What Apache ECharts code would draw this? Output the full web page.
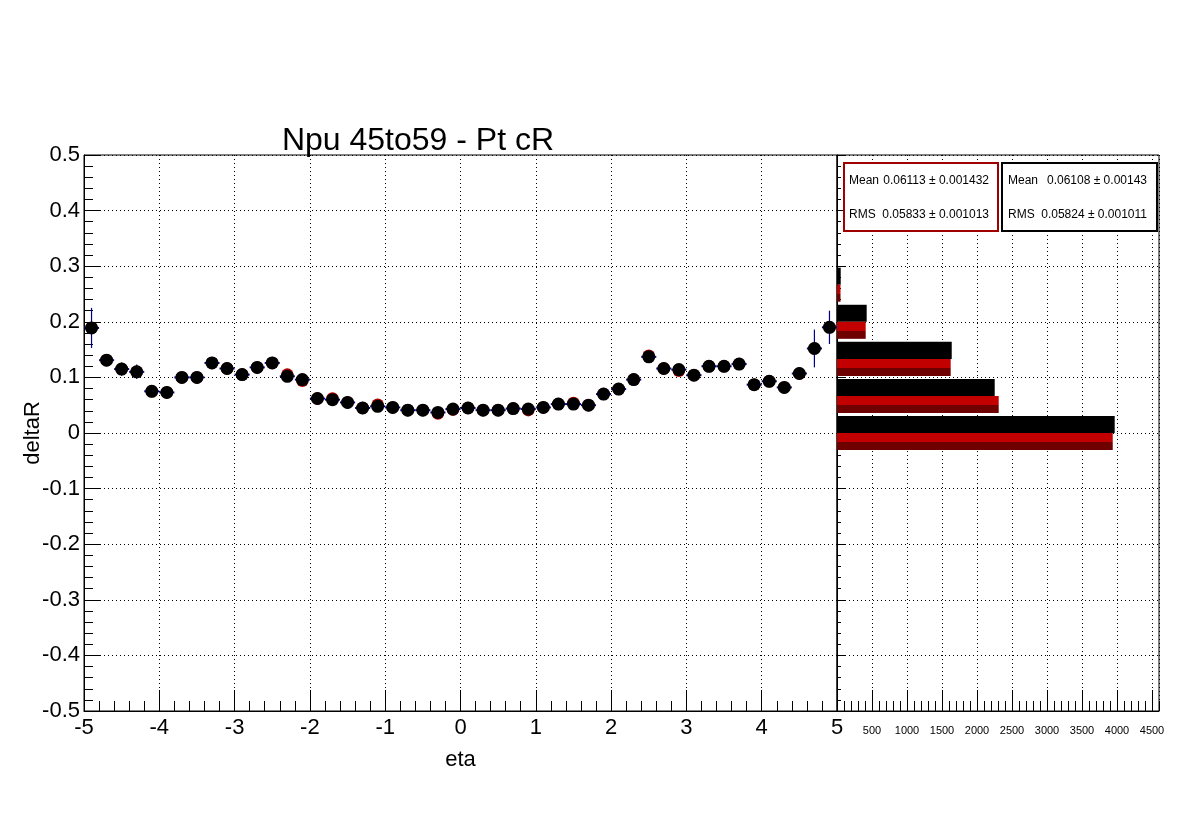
<!DOCTYPE html>
<html>
<head>
<meta charset="utf-8">
<script src="https://cdn.jsdelivr.net/npm/echarts@6/dist/echarts.min.js"></script>
<style>
html,body{margin:0;padding:0;background:#fff;}
#c{width:1196px;height:822px;}
</style>
</head>
<body>
<div id="c"></div>
<script>
// ---- data ----
const etaCenters = [-4.9,-4.7,-4.5,-4.3,-4.1,-3.9,-3.7,-3.5,-3.3,-3.1,-2.9,-2.7,-2.5,-2.3,-2.1,-1.9,-1.7,-1.5,-1.3,-1.1,-0.9,-0.7,-0.5,-0.3,-0.1,0.1,0.3,0.5,0.7,0.9,1.1,1.3,1.5,1.7,1.9,2.1,2.3,2.5,2.7,2.9,3.1,3.3,3.5,3.7,3.9,4.1,4.3,4.5,4.7,4.9];
const blackVals = [0.189,0.131,0.115,0.110,0.075,0.073,0.100,0.100,0.126,0.116,0.105,0.118,0.126,0.102,0.096,0.062,0.060,0.055,0.045,0.048,0.046,0.041,0.041,0.037,0.043,0.045,0.041,0.041,0.044,0.043,0.046,0.052,0.052,0.050,0.070,0.079,0.096,0.137,0.116,0.114,0.104,0.120,0.120,0.124,0.087,0.093,0.082,0.107,0.152,0.190];
const redVals   = [0.189,0.131,0.115,0.110,0.075,0.073,0.100,0.100,0.126,0.116,0.105,0.118,0.126,0.105,0.094,0.062,0.062,0.055,0.045,0.051,0.046,0.041,0.041,0.035,0.042,0.045,0.041,0.041,0.044,0.041,0.046,0.052,0.054,0.050,0.070,0.079,0.096,0.139,0.116,0.112,0.104,0.120,0.120,0.124,0.087,0.093,0.082,0.107,0.152,0.190];
const blackErrs = [0.036,0.008,0.012,0.013,0.007,0.007,0.006,0.006,0.010,0.008,0.007,0.011,0.010,0.006,0.006,0.005,0.005,0.005,0.004,0.004,0.004,0.004,0.004,0.004,0.004,0.004,0.004,0.004,0.004,0.004,0.004,0.005,0.005,0.005,0.005,0.006,0.006,0.009,0.007,0.007,0.006,0.008,0.008,0.009,0.007,0.008,0.008,0.011,0.034,0.030];
const etaHalfWidth = 0.1;

const histBinCenters = [0, 0.0667, 0.1333, 0.2, 0.2667];
const histBinHalf = 0.0333;
const histBlack = [3967, 2253, 1639, 424, 53];
const histRed   = [3939, 2310, 1624, 410, 50];

const statRed   = {mean:'0.06113 \u00b1 0.001432', rms:'0.05833 \u00b1 0.001013'};
const statBlack = {mean:'0.06108 \u00b1 0.00143',  rms:'0.05824 \u00b1 0.001011'};

const titleText = 'Npu 45to59 - Pt cR';
const xName = 'eta';
const yName = 'deltaR';

// ---- chart ----
const FONT = 'Liberation Sans, Arial, Helvetica, sans-serif';
const chart = echarts.init(document.getElementById('c'), null, {renderer:'canvas'});

const dotted = {show:true, lineStyle:{color:'#000', type:[1,3], width:1}};
function yFmt(v){ if (Math.abs(v) < 1e-9) return '0'; return String(+v.toFixed(1)); }

const errData = etaCenters.map((x,i)=>[x, blackVals[i], blackErrs[i]]);
const blackData = etaCenters.map((x,i)=>[x, blackVals[i]]);
const redData = etaCenters.map((x,i)=>[x, redVals[i]]);
const hBlackData = histBinCenters.map((c,i)=>[histBlack[i], c]);
const hRedData = histBinCenters.map((c,i)=>[histRed[i], c]);

const option = {
  backgroundColor:'#fff',
  animation:false,
  textStyle:{fontFamily:FONT},
  grid:[
    {left:84, top:155, width:753, height:556, show:true, borderColor:'#000', borderWidth:1},
    {left:837, top:155, width:322, height:556, show:true, borderColor:'#000', borderWidth:1}
  ],
  xAxis:[
    {gridIndex:0, type:'value', min:-5, max:5, interval:1,
     axisLine:{show:true, onZero:false, lineStyle:{color:'#000'}},
     axisTick:{show:true, inside:true, length:21, lineStyle:{color:'#000'}},
     minorTick:{show:true, splitNumber:5, length:10, lineStyle:{color:'#000'}},
     splitLine:dotted,
     axisLabel:{fontSize:22, color:'#000', margin:6, fontFamily:FONT},
     name:xName, nameLocation:'middle', nameGap:38, nameMoveOverlap:false,
     nameTextStyle:{fontSize:22, color:'#000', fontFamily:FONT}},
    {gridIndex:1, type:'value', min:0, max:4600, interval:500,
     axisLine:{show:true, onZero:false, lineStyle:{color:'#000'}},
     axisTick:{show:true, inside:true, length:21, lineStyle:{color:'#000'}},
     splitLine:dotted,
     axisLabel:{fontSize:11, color:'#000', margin:14, showMinLabel:false, showMaxLabel:false, fontFamily:FONT,
                formatter:function(v){ return String(v); }}},
    {gridIndex:1, type:'value', min:0, max:4600, interval:100, position:'bottom',
     axisLine:{show:false, onZero:false},
     axisTick:{show:true, inside:true, length:10, lineStyle:{color:'#000'}},
     splitLine:{show:false},
     axisLabel:{show:false}}
  ],
  yAxis:[
    {gridIndex:0, type:'value', min:-0.5, max:0.5, interval:0.1,
     axisLine:{show:true, onZero:false, lineStyle:{color:'#000'}},
     axisTick:{show:true, inside:true, length:17, lineStyle:{color:'#000'}},
     minorTick:{show:true, splitNumber:5, length:9, lineStyle:{color:'#000'}},
     splitLine:dotted,
     axisLabel:{fontSize:22, color:'#000', margin:4, formatter:yFmt, fontFamily:FONT},
     name:yName, nameLocation:'middle', nameGap:40, nameMoveOverlap:false,
     nameTextStyle:{fontSize:22, color:'#000', fontFamily:FONT}},
    {gridIndex:1, type:'value', min:-0.5, max:0.5, interval:0.1,
     axisLine:{show:true, onZero:false, lineStyle:{color:'#000'}},
     axisTick:{show:true, inside:true, length:8, lineStyle:{color:'#000'}},
     minorTick:{show:true, splitNumber:5, length:4, lineStyle:{color:'#000'}},
     splitLine:dotted,
     axisLabel:{show:false}}
  ],
  series:[
    {type:'scatter', xAxisIndex:0, yAxisIndex:0, data:redData, symbol:'circle', symbolSize:12.5,
     itemStyle:{color:'#b40000', opacity:1}, z:3},
    {type:'custom', xAxisIndex:0, yAxisIndex:0, data:errData, encode:{x:0, y:1}, z:4,
     renderItem:function(params, api){
       const x = api.value(0), y = api.value(1), e = api.value(2);
       const pL = api.coord([x - etaHalfWidth, y]);
       const pR = api.coord([x + etaHalfWidth, y]);
       const pT = api.coord([x, y + e]);
       const pB = api.coord([x, y - e]);
       return {type:'group', children:[
         {type:'line', shape:{x1:pL[0], y1:pL[1], x2:pR[0], y2:pR[1]}, style:{stroke:'#00008c', lineWidth:2}},
         {type:'line', shape:{x1:pT[0], y1:pT[1], x2:pB[0], y2:pB[1]}, style:{stroke:'#00008c', lineWidth:1.2}}
       ]};
     }},
    {type:'scatter', xAxisIndex:0, yAxisIndex:0, data:blackData, symbol:'circle', symbolSize:13,
     itemStyle:{color:'#000', opacity:1}, z:5},
    {type:'custom', xAxisIndex:1, yAxisIndex:1, data:hBlackData, encode:{x:0, y:1}, z:3,
     renderItem:function(params, api){
       const v = api.value(0), c = api.value(1);
       const p0 = api.coord([0, c + histBinHalf*0.92]);
       const p1 = api.coord([v, c]);
       return {type:'rect', shape:{x:p0[0], y:p0[1], width:p1[0]-p0[0], height:p1[1]-p0[1]}, style:{fill:'#000'}};
     }},
    {type:'custom', xAxisIndex:1, yAxisIndex:1, data:hRedData, encode:{x:0, y:1}, z:3,
     renderItem:function(params, api){
       const v = api.value(0), c = api.value(1);
       const p0 = api.coord([0, c]);
       const p1 = api.coord([v, c - histBinHalf*0.92]);
       return {type:'rect', shape:{x:p0[0], y:p0[1], width:p1[0]-p0[0], height:p1[1]-p0[1]},
         style:{fill:{type:'linear', x:0, y:0, x2:0, y2:1, colorStops:[
           {offset:0, color:'#c20000'},{offset:0.55, color:'#c20000'},
           {offset:0.55, color:'#6e0000'},{offset:1, color:'#6e0000'}]}}};
     }}
  ],
  graphic:[
    {type:'text', x:418, y:141, z:10, style:{text:titleText, font:'32px '+FONT, fill:'#000', textAlign:'center', textVerticalAlign:'middle'}},
    {type:'rect', z:10, shape:{x:844, y:163, width:154, height:68}, style:{fill:'#fff', stroke:'#a00000', lineWidth:2}},
    {type:'text', z:11, x:849, y:181, style:{text:'Mean', font:'12px '+FONT, fill:'#000', textVerticalAlign:'middle'}},
    {type:'text', z:11, x:989, y:181, style:{text:statRed.mean, font:'12px '+FONT, fill:'#000', textAlign:'right', textVerticalAlign:'middle'}},
    {type:'text', z:11, x:849, y:215, style:{text:'RMS', font:'12px '+FONT, fill:'#000', textVerticalAlign:'middle'}},
    {type:'text', z:11, x:989, y:215, style:{text:statRed.rms, font:'12px '+FONT, fill:'#000', textAlign:'right', textVerticalAlign:'middle'}},
    {type:'rect', z:10, shape:{x:1002, y:163, width:155, height:68}, style:{fill:'#fff', stroke:'#000', lineWidth:2}},
    {type:'text', z:11, x:1008, y:181, style:{text:'Mean', font:'12px '+FONT, fill:'#000', textVerticalAlign:'middle'}},
    {type:'text', z:11, x:1147, y:181, style:{text:statBlack.mean, font:'12px '+FONT, fill:'#000', textAlign:'right', textVerticalAlign:'middle'}},
    {type:'text', z:11, x:1008, y:215, style:{text:'RMS', font:'12px '+FONT, fill:'#000', textVerticalAlign:'middle'}},
    {type:'text', z:11, x:1147, y:215, style:{text:statBlack.rms, font:'12px '+FONT, fill:'#000', textAlign:'right', textVerticalAlign:'middle'}}
  ]
};
chart.setOption(option);
</script>
</body>
</html>
